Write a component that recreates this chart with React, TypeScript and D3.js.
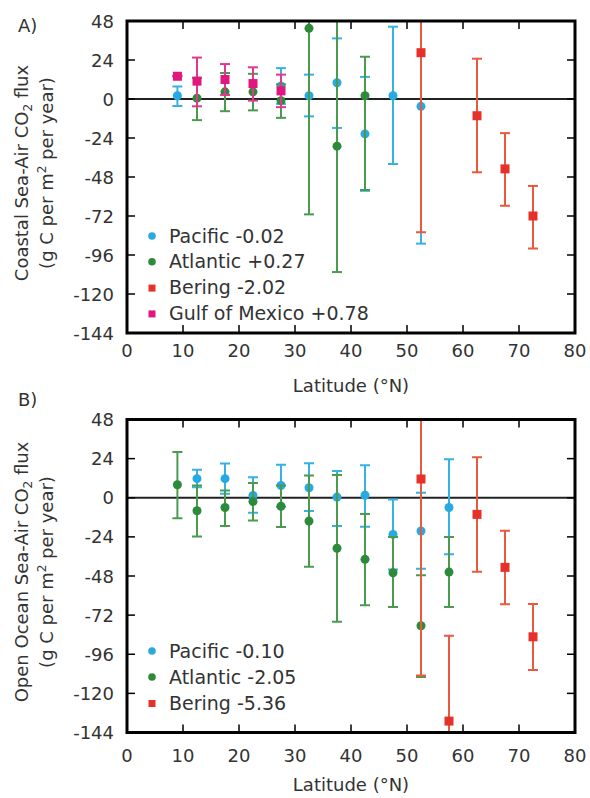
import React, { useRef, useEffect } from "react";
import * as d3 from "d3";

// [latitude, value, low, high]
const pacificA = [
  [9, 2, -4.3, 7.7], [27.5, 8, -3, 19], [32.5, 2, -10.7, 15], [37.5, 10, -17.8, 37.3],
  [42.5, -21.5, -56.5, 13.6], [47.5, 2, -40, 44.5], [52.5, -4.5, -89, 80],
];
const atlanticA = [
  [12.5, 0.5, -13, 13], [17.5, 4.4, -7.5, 16], [22.5, 4.4, -7, 15.5], [27.5, -1, -11.6, 9],
  [32.5, 43.5, -71, 158], [37.5, -29, -106.5, 50], [42.5, 2, -56, 26],
];
const beringA = [
  [52.5, 28.5, -82, 140], [62.5, -10.3, -45.1, 24.8], [67.5, -43, -65.7, -21], [72.5, -72, -92, -53.5],
];
const gulfA = [
  [9, 14, 14, 14], [12.5, 11, -4.5, 25.5], [17.5, 12, 2.5, 21.5], [22.5, 9.5, -1, 19.5], [27.5, 5, -5, 15],
];

const pacificB = [
  [12.5, 11.7, 6.5, 17.2], [17.5, 11.7, 2.5, 21], [22.5, 1.4, -9.2, 12.6], [27.5, 7.5, -5.5, 20.2],
  [32.5, 6.1, -8.2, 21.1], [37.5, 0.4, -17.4, 16.4], [42.5, 1.5, -17.8, 20], [47.5, -22.5, -44, -1],
  [52.5, -20.4, -43.6, 3.1], [57.5, -6, -34.7, 23.6],
];
const atlanticB = [
  [9, 8, -12.5, 28], [12.5, -8, -23.7, 7.5], [17.5, -6, -17.4, 4.5], [22.5, -2.3, -14, 9],
  [27.5, -5.2, -18, 7.5], [32.5, -14.3, -42.3, 13.7], [37.5, -31, -76, 14], [42.5, -37.8, -66, -10],
  [47.5, -46, -67, -24], [52.5, -78.5, -110, -47.5], [57.5, -45.6, -67, -24],
];
const beringB = [
  [52.5, 11.5, -109, 132], [57.5, -137, -190, -84.7], [62.5, -10.2, -45.4, 24.8],
  [67.5, -42.7, -65.4, -20.2], [72.5, -85.3, -105.7, -65.2],
];

const legendA = ["Pacific -0.02", "Atlantic +0.27", "Bering -2.02", "Gulf of Mexico +0.78"];
const legendB = ["Pacific -0.10", "Atlantic -2.05", "Bering -5.36"];
const yTicks = [48, 24, 0, -24, -48, -72, -96, -120, -144];
const xTicks = [0, 10, 20, 30, 40, 50, 60, 70, 80];

const PAC = { color: "#27a9e1", bar: "#35b1e6", shape: "circle" };
const ATL = { color: "#2d8a3b", bar: "#4a9a50", shape: "circle" };
const BER = { color: "#e6302a", bar: "#e8593e", shape: "square" };
const GUL = { color: "#e0177f", bar: "#e0398c", shape: "square" };

const FONT = "DejaVu Sans, sans-serif";
const TXT = "#333";

const drawPanel = (svg, o) => {
  const x = d3.scaleLinear().domain([0, 80]).range([127, 575]);
  const y = d3.scaleLinear().domain([-144, 48]).range([o.bottom, o.top]);
  const g = svg.append("g");
  const [x0, x1] = x.range();

  g.append("clipPath").attr("id", o.id)
    .append("rect").attr("x", x0).attr("y", o.top).attr("width", x1 - x0).attr("height", o.bottom - o.top);

  // zero line
  g.append("line").attr("x1", x0).attr("x2", x1).attr("y1", y(0)).attr("y2", y(0))
    .attr("stroke", "#222").attr("stroke-width", 2);

  const marks = g.append("g").attr("clip-path", `url(#${o.id})`);
  o.series.forEach(s => {
    const sg = marks.append("g");
    s.data.forEach(([lat, v, lo, hi]) => {
      const cx = x(lat);
      sg.append("line").attr("x1", cx).attr("x2", cx).attr("y1", y(lo)).attr("y2", y(hi))
        .attr("stroke", s.bar).attr("stroke-width", 2);
      [lo, hi].forEach(e => sg.append("line").attr("x1", cx - 5).attr("x2", cx + 5)
        .attr("y1", y(e)).attr("y2", y(e)).attr("stroke", s.bar).attr("stroke-width", 2));
      if (s.shape === "circle") {
        sg.append("circle").attr("cx", cx).attr("cy", y(v)).attr("r", 4.5).attr("fill", s.color);
      } else {
        sg.append("rect").attr("x", cx - 4.5).attr("y", y(v) - 4.5).attr("width", 9).attr("height", 9)
          .attr("fill", s.color);
      }
    });
  });

  // frame
  g.append("rect").attr("x", x0).attr("y", o.top).attr("width", x1 - x0).attr("height", o.bottom - o.top)
    .attr("fill", "none").attr("stroke", "#000").attr("stroke-width", 3);

  // inward ticks on all sides
  xTicks.slice(1, -1).forEach(t => {
    g.append("line").attr("x1", x(t)).attr("x2", x(t)).attr("y1", o.bottom).attr("y2", o.bottom - 8)
      .attr("stroke", "#000").attr("stroke-width", 1.5);
    g.append("line").attr("x1", x(t)).attr("x2", x(t)).attr("y1", o.top).attr("y2", o.top + 8)
      .attr("stroke", "#000").attr("stroke-width", 1.5);
  });
  yTicks.slice(1, -1).forEach(t => {
    g.append("line").attr("x1", x0).attr("x2", x0 + 8).attr("y1", y(t)).attr("y2", y(t))
      .attr("stroke", "#000").attr("stroke-width", 1.5);
    g.append("line").attr("x1", x1).attr("x2", x1 - 8).attr("y1", y(t)).attr("y2", y(t))
      .attr("stroke", "#000").attr("stroke-width", 1.5);
  });

  const text = (tx, ty, str, anchor = "start", size = 18) =>
    g.append("text").attr("x", tx).attr("y", ty).attr("text-anchor", anchor)
      .attr("font-family", FONT).attr("font-size", size).attr("fill", TXT).text(str);

  yTicks.forEach(t => text(114, y(t) + 6.5, String(t), "end"));
  xTicks.forEach(t => text(x(t), o.xLabelY, String(t), "middle"));
  text((x0 + x1) / 2, o.xTitleY, "Latitude (°N)", "middle");
  text(18, o.labelY, o.label, "start");

  // legend
  o.legend.forEach((lab, i) => {
    const s = o.series[i];
    const ly = o.legendY + i * o.legendStep;
    if (s.shape === "circle") {
      g.append("circle").attr("cx", 152).attr("cy", ly).attr("r", 3.8).attr("fill", s.color);
    } else {
      g.append("rect").attr("x", 148.5).attr("y", ly - 3).attr("width", 7).attr("height", 7).attr("fill", s.color);
    }
    text(169, ly + 6.5, lab, "start", 19);
  });

  // y title (two lines, rotated)
  const cy = (o.top + o.bottom) / 2 - 4;
  const t1 = g.append("text").attr("transform", `translate(28,${cy}) rotate(-90)`)
    .attr("text-anchor", "middle").attr("font-family", FONT).attr("font-size", 18).attr("fill", TXT);
  t1.append("tspan").text(o.title + " Sea-Air CO");
  t1.append("tspan").attr("font-size", 12).attr("dy", 4).text("2");
  t1.append("tspan").attr("dy", -4).text(" flux");
  const t2 = g.append("text").attr("transform", `translate(53,${cy}) rotate(-90)`)
    .attr("text-anchor", "middle").attr("font-family", FONT).attr("font-size", 18).attr("fill", TXT);
  t2.append("tspan").text("(g C per m");
  t2.append("tspan").attr("font-size", 12).attr("dy", -7).text("2");
  t2.append("tspan").attr("dy", 7).text(" per year)");
};

const App = () => {
  const svgRef = useRef(null);

  useEffect(() => {
    const svg = d3.select(svgRef.current);
    svg.selectAll("*").remove();
    svg.append("rect").attr("width", 590).attr("height", 798).attr("fill", "#fff");

    drawPanel(svg, {
      id: "clipA", top: 21, bottom: 333, label: "A)", labelY: 32, title: "Coastal",
      xLabelY: 357, xTitleY: 392,
      series: [PAC, ATL, BER, GUL].map((s, i) => ({ ...s, data: [pacificA, atlanticA, beringA, gulfA][i] })),
      legend: legendA, legendY: 236, legendStep: 25.8,
    });
    drawPanel(svg, {
      id: "clipB", top: 419.5, bottom: 732.5, label: "B)", labelY: 406, title: "Open Ocean",
      xLabelY: 762, xTitleY: 791,
      series: [PAC, ATL, BER].map((s, i) => ({ ...s, data: [pacificB, atlanticB, beringB][i] })),
      legend: legendB, legendY: 651, legendStep: 26,
    });
  }, []);

  return <svg ref={svgRef} width={590} height={798} style={{ position: "absolute", left: 0, top: 0 }}></svg>;
};

export default App;
